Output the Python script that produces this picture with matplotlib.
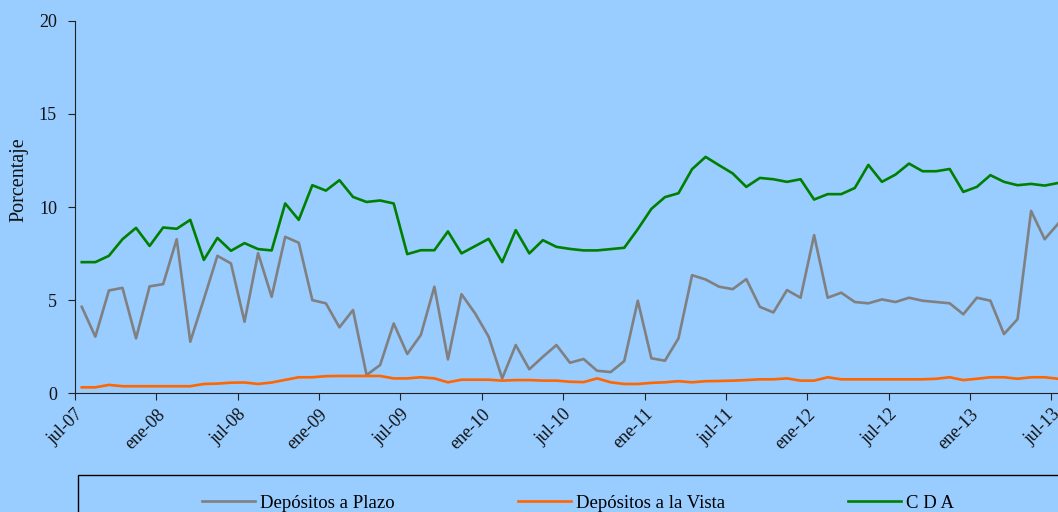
import matplotlib
matplotlib.use("Agg")
import matplotlib.pyplot as plt
import matplotlib.transforms as mtransforms
from matplotlib.patches import Rectangle
import numpy as np

plt.rcParams['font.family'] = ['Liberation Serif', 'DejaVu Serif']

# monthly series jul-07 .. jul-13
meses = ['ene', 'feb', 'mar', 'abr', 'may', 'jun', 'jul', 'ago', 'sep', 'oct', 'nov', 'dic']
fechas = ['%s-%02d' % (meses[(6 + k) % 12], (7 + (6 + k) // 12)) for k in range(73)]

plazo = [4.64, 3.04, 5.52, 5.66, 2.95, 5.74, 5.86, 8.27, 2.77, 5.05, 7.38, 6.97, 3.84,
         7.52, 5.18, 8.40, 8.08, 5.00, 4.83, 3.54, 4.47, 0.98, 1.52, 3.75, 2.11, 3.13,
         5.72, 1.82, 5.32, 4.29, 3.04, 0.80, 2.59, 1.29, 1.96, 2.59, 1.64, 1.84, 1.21,
         1.14, 1.73, 4.97, 1.88, 1.75, 2.95, 6.34, 6.11, 5.72, 5.59, 6.13, 4.64, 4.34,
         5.54, 5.13, 8.49, 5.13, 5.40, 4.90, 4.83, 5.04, 4.90, 5.13, 4.97, 4.90, 4.83,
         4.24, 5.13, 4.97, 3.18, 3.98, 9.79, 8.27, 9.11]
vista = [0.32, 0.32, 0.45, 0.38, 0.38, 0.38, 0.38, 0.38, 0.38, 0.50, 0.52, 0.57, 0.58,
         0.50, 0.58, 0.72, 0.86, 0.86, 0.92, 0.93, 0.93, 0.93, 0.93, 0.80, 0.80, 0.86,
         0.80, 0.59, 0.73, 0.73, 0.73, 0.68, 0.71, 0.71, 0.68, 0.68, 0.62, 0.60, 0.80,
         0.59, 0.50, 0.50, 0.56, 0.59, 0.65, 0.59, 0.65, 0.66, 0.68, 0.71, 0.75, 0.75,
         0.80, 0.68, 0.68, 0.86, 0.75, 0.75, 0.75, 0.75, 0.75, 0.75, 0.75, 0.78, 0.86,
         0.71, 0.78, 0.86, 0.86, 0.78, 0.86, 0.86, 0.78]
cda = [7.04, 7.04, 7.38, 8.27, 8.88, 7.91, 8.90, 8.83, 9.31, 7.16, 8.34, 7.65, 8.06,
       7.74, 7.67, 10.19, 9.31, 11.17, 10.88, 11.44, 10.54, 10.27, 10.35, 10.19, 7.47,
       7.68, 7.68, 8.69, 7.51, 7.90, 8.29, 7.04, 8.76, 7.51, 8.22, 7.86, 7.75, 7.67,
       7.67, 7.74, 7.81, 8.81, 9.90, 10.53, 10.74, 12.03, 12.69, 12.24, 11.80, 11.08,
       11.56, 11.49, 11.35, 11.49, 10.40, 10.69, 10.69, 11.02, 12.26, 11.35, 11.74,
       12.33, 11.92, 11.92, 12.04, 10.81, 11.08, 11.71, 11.35, 11.17, 11.24, 11.15, 11.29]

bg = '#99CCFF'
fig = plt.figure(figsize=(10.58, 5.12), dpi=100, facecolor=bg)
ax = fig.add_axes([75 / 1058, 118.7 / 512, 990 / 1058, 372.6 / 512])
ax.set_facecolor(bg)

x = np.arange(len(fechas))
l1, = ax.plot(x, plazo, color='#808080', lw=1.9, label='Depósitos a Plazo')
l2, = ax.plot(x, vista, color='#FF6600', lw=1.9, label='Depósitos a la Vista')
l3, = ax.plot(x, cda, color='#008000', lw=1.9, label='C D A')

ax.set_xlim(-0.5, 72.5)
ax.set_ylim(0, 20)
ax.set_yticks([0, 5, 10, 15, 20])
ax.set_yticklabels(['0', '5', '10', '15', '20'], fontsize=13)
ticks = x[::6] - 0.5
ax.set_xticks(ticks)
ax.set_xticklabels(fechas[::6], rotation=45, ha='right', va='top',
                   rotation_mode='anchor', fontsize=13)
shift = mtransforms.ScaledTranslation(0.07, -0.03, fig.dpi_scale_trans)
for lab in ax.get_xticklabels():
    lab.set_transform(lab.get_transform() + shift)
for s in ['top', 'right']:
    ax.spines[s].set_visible(False)
for s in ['left', 'bottom']:
    ax.spines[s].set_color('#222222')
ax.tick_params(direction='out', length=5, color='#222222', labelcolor='#111111')
ax.tick_params(axis='x', pad=4)
ax.tick_params(axis='y', pad=8)

fig.text(19 / 1058, 1 - 180 / 512, 'Porcentaje', rotation=90, ha='center', va='center',
         fontsize=14.5, color='#111111')

# legend frame running off the figure edge
fig.patches.append(Rectangle((78 / 1058, -0.1), 1.0, 0.1 + 37 / 512, transform=fig.transFigure,
                             fill=False, edgecolor='black', lw=1))
fig.legend(handles=[l1, l2, l3], loc='center left', bbox_to_anchor=(193 / 1058, 1 - 503 / 512),
           ncol=3, frameon=False, fontsize=13.5, borderpad=0, handlelength=2.83,
           handletextpad=0.27, columnspacing=6.55)

fig.savefig('out.png', dpi=100, facecolor=bg)
